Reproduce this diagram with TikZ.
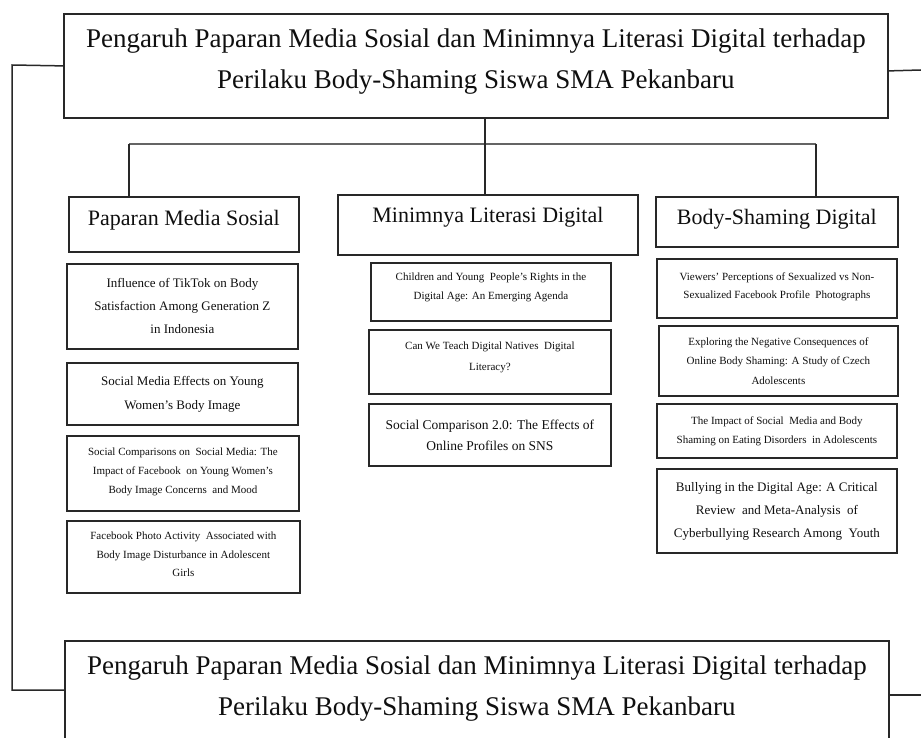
\documentclass[tikz,border=0pt]{standalone}
\usepackage{fontspec}
\setmainfont{Liberation Serif}
\definecolor{ink}{RGB}{15,15,15}
\definecolor{edge}{RGB}{40,40,40}
\definecolor{barcol}{RGB}{100,100,100}
\tikzset{
  box/.style={draw=edge, line width=1.8pt, anchor=north west, align=center, inner sep=0pt, text=ink},
  bigbox/.style={box, font=\fontsize{27}{41}\selectfont},
  headbox/.style={box, font=\fontsize{22}{26}\selectfont},
  smbox/.style={box, font=\fontsize{11}{#1}\selectfont},
  mdbox/.style={box, font=\fontsize{13}{#1}\selectfont},
  conn/.style={draw=edge, line width=1.5pt},
}
\begin{document}
\begin{tikzpicture}[x=1pt,y=-1pt]
\useasboundingbox (0,0) rectangle (921,738);
\clip (0,0) rectangle (921,738);

% title boxes
\node[bigbox, minimum width=824pt, minimum height=104pt, text depth=14pt] (tb) at (63,13)
  {Pengaruh Paparan Media Sosial dan Minimnya Literasi Digital terhadap\\Perilaku Body-Shaming Siswa SMA Pekanbaru};
\node[bigbox, minimum width=824pt, minimum height=104pt, text depth=14pt] (bb) at (64,640)
  {Pengaruh Paparan Media Sosial dan Minimnya Literasi Digital terhadap\\Perilaku Body-Shaming Siswa SMA Pekanbaru};

% headings
\node[headbox, minimum width=230pt, minimum height=55pt, text depth=12.8pt] (pms) at (68,196) {Paparan Media Sosial};
\node[headbox, minimum width=300pt, minimum height=60pt, text depth=20.8pt] (mld) at (337,194) {Minimnya Literasi Digital};
\node[headbox, minimum width=242pt, minimum height=50pt, text depth=10.8pt] (bsd) at (655,196) {Body-Shaming Digital};

% left column
\node[mdbox=23, minimum width=231pt, minimum height=85pt] (l1) at (66,263)
  {Influence of TikTok on Body\\Satisfaction Among Generation Z\\in Indonesia};
\node[mdbox=24, minimum width=231pt, minimum height=62pt] (l2) at (66,362)
  {Social Media Effects on Young\\Women's Body Image};
\node[smbox=19, minimum width=232pt, minimum height=75pt, text depth=5pt] (l3) at (66,435)
  {Social Comparisons on~ Social Media: The\\Impact of Facebook~ on Young Women's\\Body Image Concerns~ and Mood};
\node[smbox=18.5, minimum width=233pt, minimum height=72pt, text depth=5pt] (l4) at (66,520)
  {Facebook Photo Activity~ Associated with\\Body Image Disturbance in Adolescent\\Girls};

% middle column
\node[smbox=19, minimum width=240pt, minimum height=58pt, text depth=11.5pt] (m1) at (370,262)
  {Children and Young~ People's Rights in the\\Digital Age: An Emerging Agenda};
\node[smbox=21, minimum width=242pt, minimum height=64pt, text depth=10.5pt] (m2) at (368,329)
  {Can We Teach Digital Natives~ Digital\\Literacy?};
\node[box, font=\fontsize{13.5}{21}\selectfont, minimum width=242pt, minimum height=62pt] (m3) at (368,403)
  {Social Comparison 2.0: The Effects of\\Online Profiles on SNS};

% right column
\node[smbox=18, minimum width=240pt, minimum height=59pt, text depth=5pt] (r1) at (656,258)
  {Viewers' Perceptions of Sexualized vs Non-\\Sexualized Facebook Profile~ Photographs};
\node[smbox=19.5, minimum width=239pt, minimum height=70pt] (r2) at (658,325)
  {Exploring the Negative Consequences of\\Online Body Shaming: A Study of Czech\\Adolescents};
\node[smbox=19, minimum width=240pt, minimum height=54pt] (r3) at (656,403)
  {The Impact of Social~ Media and Body\\Shaming on Eating Disorders~ in Adolescents};
\node[mdbox=23, minimum width=240pt, minimum height=84pt] (r4) at (656,468)
  {Bullying in the Digital Age: A Critical\\Review~ and Meta-Analysis~ of\\Cyberbullying Research Among~ Youth};

% connectors
\coordinate (bl) at (129,144);
\coordinate (br) at (816,144);
\coordinate (lt) at (12,65);
\coordinate (lb) at (12,690);
\coordinate (rt) at (921,70);
\coordinate (rb) at (921,695);

\draw[draw=barcol, line width=2.2pt] (bl) -- (br);
\draw[conn] ([xshift=-3pt]tb.south -| mld.north) -- ([xshift=-3pt]mld.north);
\draw[conn] (bl) -- (bl |- pms.north);
\draw[conn] (br) -- (br |- bsd.north);
\draw[conn] (tb.west) -- (lt) -- (lb) -- (bb.west |- lb);
\draw[conn] ([yshift=-5pt]tb.east) -- (rt);
\draw[conn] (bb.east |- rb) -- (rb);
\end{tikzpicture}
\end{document}
